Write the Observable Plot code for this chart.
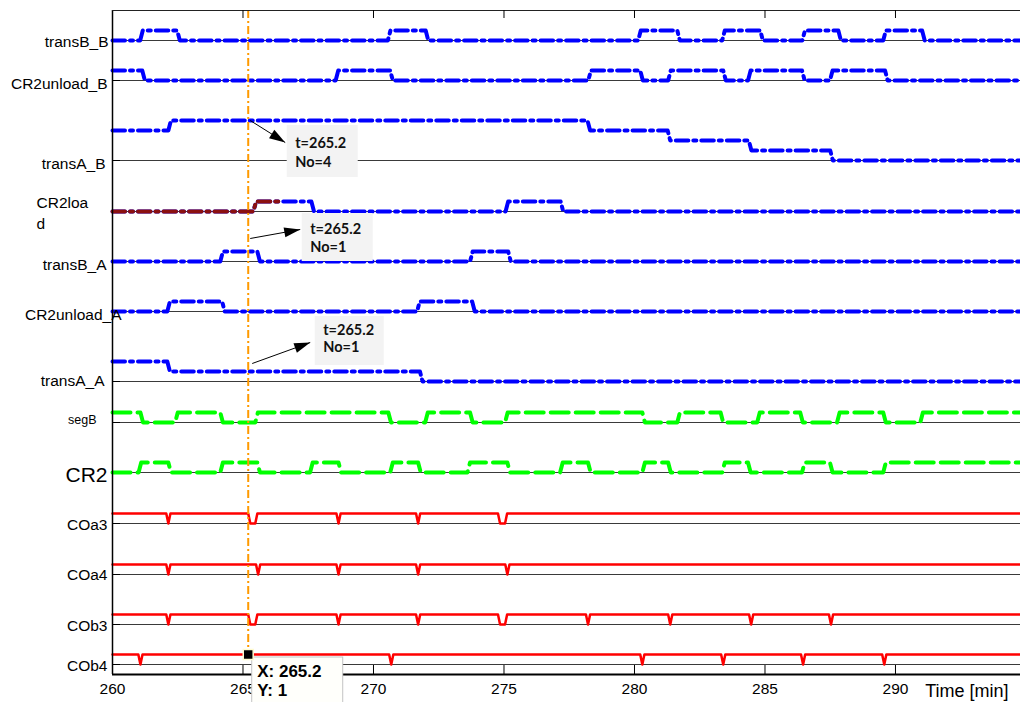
<!DOCTYPE html>
<html><head><meta charset="utf-8">
<script src="https://cdn.jsdelivr.net/npm/d3@7"></script>
<script src="https://cdn.jsdelivr.net/npm/@observablehq/plot@0.6"></script>
<style>
html,body{margin:0;padding:0;background:#fff;}
#chart{width:1020px;height:702px;overflow:hidden;}
</style></head><body><div id="chart"></div>
<script>
// ---------------- data ----------------
const rowNames  = ["transB_B","CR2unload_B","transA_B","CR2load","transB_A","CR2unload_A","transA_A","segB","CR2","COa3","COa4","COb3","COb4"];
const rowLabels = ["transB_B","CR2unload_B","transA_B","CR2loa\nd","transB_A","CR2unload_A","transA_A","segB","CR2","COa3","COa4","COb3","COb4"];

// step series: [time, level] (level holds until next change)
const transB_B    = [[260,0],[261.06,1],[262.48,0],[270.55,1],[272.0,0],[280.14,1],[281.64,0],[283.36,1],[284.82,0],[286.43,1],[287.81,0],[289.53,1],[291.02,0]];
const CR2unload_B = [[260,1],[261.14,0],[268.55,1],[270.64,0],[278.23,1],[280.22,0],[281.29,1],[283.4,0],[284.35,1],[286.42,0],[287.49,1],[289.6,0]];
const transA_B    = [[260,3],[262.14,4],[278.2,3],[281.27,2],[284.38,1],[287.5,0]];
const CR2load     = [[260,0],[265.4,1],[267.62,0],[275.06,1],[277.17,0]];
const transB_A    = [[260,0],[264.13,1],[265.55,0],[273.7,1],[275.16,0]];
const CR2unload_A = [[260,0],[262.1,1],[264.2,0],[271.67,1],[273.78,0]];
const transA_A    = [[260,2],[262.1,1],[271.78,0]];
const segB        = [[260,1],[261.07,0],[262.4,1],[264.13,0],[265.47,1],[270.57,0],[271.98,1],[273.7,0],[275.04,1],[280.3,0],[281.64,1],[283.3,0],[284.7,1],[286.35,0],[287.76,1],[289.53,0],[290.95,1]];
const CR2         = [[260,0],[261.0,1],[262.14,0],[264.13,1],[265.55,0],[267.57,1],[268.66,0],[270.64,1],[271.71,0],[273.6,1],[275.13,0],[277.15,1],[278.22,0],[280.3,1],[281.29,0],[283.36,1],[284.35,0],[286.42,1],[287.49,0],[289.53,1]];
// level-1 signals with drops to 0 over [start, end]
const COa3 = [[262.14,262.14],[265.28,265.47],[268.66,268.66],[271.71,271.71],[274.85,275.04]];
const COa4 = [[262.14,262.14],[265.58,265.58],[268.66,268.66],[271.71,271.71],[275.13,275.13]];
const COb3 = [[262.14,262.14],[265.28,265.47],[268.66,268.66],[271.71,271.71],[274.85,275.04],[278.22,278.22],[281.37,281.37],[284.47,284.47],[287.53,287.53]];
const COb4 = [[261.07,261.07],[270.68,270.68],[280.3,280.3],[283.4,283.4],[286.46,286.46],[289.57,289.57]];
const CR2loadHighlightEnd = 266.35;

const xTicks = [260,265,270,275,280,285,290];
const xLabel = "Time [min]";
const cursorTime = 265.2;
const cursorRow = "COb4", cursorLevel = 1;
const tipLines = ["X: 265.2","Y: 1"];
const annotations = [
  {t:265.2, row:"transA_B", level:4, lines:["t=265.2","No=4"]},
  {t:265.2, row:"CR2load",  level:1, lines:["t=265.2","No=1"]},
  {t:265.2, row:"transA_A", level:1, lines:["t=265.2","No=1"]}
];

// ---------------- layout ----------------
const W=1020, H=702, mL=112, mR=0, mT=10, mB=28;
const xMin=260, xMax=294.79, yMax=66.4;
const rowBase = [63.4,59.4,51.4,46.3,41.3,36.3,29.3,25.2,20.2,15.1,10.0,5.0,1.0];
const base = Object.fromEntries(rowNames.map((n,i)=>[n,rowBase[i]]));
const pxPerMin = (W-mL-mR)/(xMax-xMin);
const pxPerUnit = (H-mT-mB)/yMax;
const ox = px => px/pxPerMin;      // px right -> minutes
const oy = px => -px/pxPerUnit;    // px down  -> units
const labelLayout = [
  {dx:-4, dy:0, size:15.5, anchor:"end"},
  {dx:-5, dy:2, size:15.5, anchor:"end"},
  {dx:-7, dy:2, size:15.5, anchor:"end"},
  {dx:-76, dy:0, size:15.5, anchor:"start"},
  {dx:-6, dy:2, size:15.5, anchor:"end"},
  {dx:9, dy:2, size:15.5, anchor:"end"},
  {dx:-8, dy:-2, size:15.5, anchor:"end"},
  {dx:-16, dy:-4, size:12.5, anchor:"end"},
  {dx:-5, dy:0, size:21, anchor:"end"},
  {dx:-5, dy:0, size:15.5, anchor:"end"},
  {dx:-5, dy:-1, size:15.5, anchor:"end"},
  {dx:-5, dy:0, size:15.5, anchor:"end"},
  {dx:-5, dy:0, size:15.5, anchor:"end"}
];
const annLayout = [
  {start:[2,0],  end:[37,22],  box:[39,5,110,57],    text:[47,22.5,41.5]},
  {start:[2,37], end:[52,28],  box:[54,12,125,60],   text:[62,28,45.5]},
  {start:[4,-8], end:[62,-29], box:[67,-55,136,-6],  text:[75,-41,-24]}
];

// ---------------- build series ----------------
const RAMP=0.1, DIPRAMP=0.08;
function stepPoints(name, steps, until=xMax){
  const off=base[name], pts=[];
  steps.forEach(([t,v],i)=>{
    if(t>until) return;
    if(i===0) pts.push({t,y:off+v});
    else { pts.push({t,y:off+steps[i-1][1]}); pts.push({t:Math.min(t+RAMP,until),y:off+v}); }
  });
  const last = steps.filter(s=>s[0]<=until).pop();
  pts.push({t:until,y:off+last[1]});
  return pts.map(p=>({...p,series:name}));
}
function dipPoints(name, dips){
  const off=base[name], pts=[{t:xMin,y:off+1}];
  dips.forEach(([a,b])=>{pts.push({t:a-DIPRAMP,y:off+1},{t:a,y:off},{t:b,y:off},{t:b+DIPRAMP,y:off+1});});
  pts.push({t:xMax,y:off+1});
  return pts.map(p=>({...p,series:name}));
}
const blueData = [
  ...stepPoints("transB_B",transB_B), ...stepPoints("CR2unload_B",CR2unload_B),
  ...stepPoints("transA_B",transA_B), ...stepPoints("CR2load",CR2load),
  ...stepPoints("transB_A",transB_A), ...stepPoints("CR2unload_A",CR2unload_A),
  ...stepPoints("transA_A",transA_A)
];
const darkRedData = stepPoints("CR2load",CR2load,CR2loadHighlightEnd);
const greenData = [...stepPoints("segB",segB), ...stepPoints("CR2",CR2)];
const redData = [...dipPoints("COa3",COa3), ...dipPoints("COa4",COa4), ...dipPoints("COb3",COb3), ...dipPoints("COb4",COb4)];

const FONT = "'Liberation Sans', Arial, Helvetica, sans-serif";
const BLUE_DASH = "12.5,5,3,5";

// annotations
const annRects=[], annLinks=[], annTexts=[];
annotations.forEach((a,i)=>{
  const L=annLayout[i], ay=base[a.row]+a.level;
  const sx=a.t+ox(L.start[0]), sy=ay+oy(L.start[1]);
  const ex=a.t+ox(L.end[0]), ey=ay+oy(L.end[1]);
  annRects.push({x1:a.t+ox(L.box[0]), x2:a.t+ox(L.box[2]), y1:ay+oy(L.box[1]), y2:ay+oy(L.box[3])});
  const ang = Math.atan2(L.end[0]-L.start[0], -(L.end[1]-L.start[1]))*180/Math.PI;
  annLinks.push({x1:sx,y1:sy,x2:ex,y2:ey,rot:ang});
  a.lines.forEach((s,j)=>annTexts.push({x:a.t+ox(L.text[0]), y:ay+oy(L.text[1+j]), s}));
});
const tipY = base[cursorRow]+cursorLevel;

const marks = [
  // baselines
  Plot.ruleY(rowBase, {x1:xMin, x2:xMax, stroke:"#3a3a3a", strokeWidth:1}),
  Plot.ruleY(rowBase, {x1:xMin, x2:xMin+ox(8), stroke:"#000", strokeWidth:1}),
  // signals
  Plot.line(redData, {x:"t", y:"y", z:"series", stroke:"#ff0000", strokeWidth:2.5}),
  Plot.line(greenData, {x:"t", y:"y", z:"series", stroke:"#00ff00", strokeWidth:4, strokeDasharray:"18,7"}),
  Plot.line(blueData, {x:"t", y:"y", z:"series", stroke:"#0000ff", strokeWidth:4, strokeDasharray:BLUE_DASH}),
  Plot.line(darkRedData, {x:"t", y:"y", z:"series", stroke:"#8b1010", strokeWidth:4, strokeDasharray:BLUE_DASH}),
  // annotation boxes
  Plot.rect(annRects, {x1:"x1", x2:"x2", y1:"y1", y2:"y2", fill:"#f3f3f3"}),
  Plot.link(annLinks, {x1:"x1", y1:"y1", x2:"x2", y2:"y2", stroke:"#000", strokeWidth:1}),
  Plot.vector(annLinks, {x:"x2", y:"y2", rotate:"rot", length:16, r:5, shape:"spike", anchor:"end", fill:"#000", stroke:"none"}),
  Plot.text(annTexts, {x:"x", y:"y", text:"s", textAnchor:"start", lineAnchor:"middle", fontSize:14.5, fontWeight:"bold", fontFamily:"Lato, 'Open Sans', sans-serif", fill:"#111"}),
  // cursor
  Plot.ruleX([cursorTime], {y1:yMax, y2:tipY+oy(-5), stroke:"#ff9a00", strokeWidth:2, strokeDasharray:"8,3,2,3"}),
  // axes
  Plot.ruleX([xMin], {y1:0, y2:yMax, stroke:"#000", strokeWidth:1.5}),
  Plot.ruleY([0], {x1:xMin, x2:xMax, stroke:"#000", strokeWidth:2}),
  Plot.ruleY([yMax], {x1:xMin, x2:xMax, stroke:"#222", strokeWidth:1.2}),
  Plot.ruleX(xTicks.slice(1), {y1:0, y2:oy(-9), stroke:"#000", strokeWidth:1}),
  Plot.ruleX(xTicks.slice(1), {y1:yMax, y2:yMax+oy(8), stroke:"#000", strokeWidth:1}),
  Plot.axisX(xTicks, {tickSize:0, tickPadding:8, fontSize:15.5, fontFamily:FONT, fill:"#000", label:null}),
  Plot.text([xLabel], {frameAnchor:"bottom-right", textAnchor:"end", lineAnchor:"middle", dx:-12, dy:17, fontSize:18, fontFamily:FONT, fill:"#000"}),
  // row labels
  ...rowNames.map((n,i)=>{
    const L=labelLayout[i];
    return Plot.text([rowLabels[i]], {x:()=>xMin, y:()=>base[n], text:d=>d, textAnchor:L.anchor, lineAnchor:"middle", dx:L.dx, dy:L.dy, fontSize:L.size, lineHeight:1.38, fontFamily:FONT, fill:"#000"});
  }),
  // data tip
  Plot.rect([0], {x1:()=>cursorTime+ox(4), x2:()=>cursorTime+ox(95), y1:()=>tipY+oy(3), y2:()=>tipY+oy(80), fill:"#fffffb", stroke:"#c4c4c4", strokeWidth:1}),
  Plot.dot([0], {x:()=>cursorTime, y:()=>tipY, symbol:"square", r:5.6, fill:"#000", stroke:"#fffbd0", strokeWidth:1.5}),
  Plot.text(tipLines, {x:()=>cursorTime+ox(9), y:(d,i)=>tipY+oy(17+i*19.5), text:d=>d, textAnchor:"start", lineAnchor:"middle", fontSize:17, fontWeight:"bold", fontFamily:FONT, fill:"#000"})
];

const chart = Plot.plot({
  width:W, height:H, marginLeft:mL, marginRight:mR, marginTop:mT, marginBottom:mB,
  x:{domain:[xMin,xMax], axis:null},
  y:{domain:[0,yMax], axis:null},
  style:{fontFamily:FONT, background:"#fff", overflow:"visible"},
  marks
});
document.getElementById("chart").appendChild(chart);
</script></body></html>
